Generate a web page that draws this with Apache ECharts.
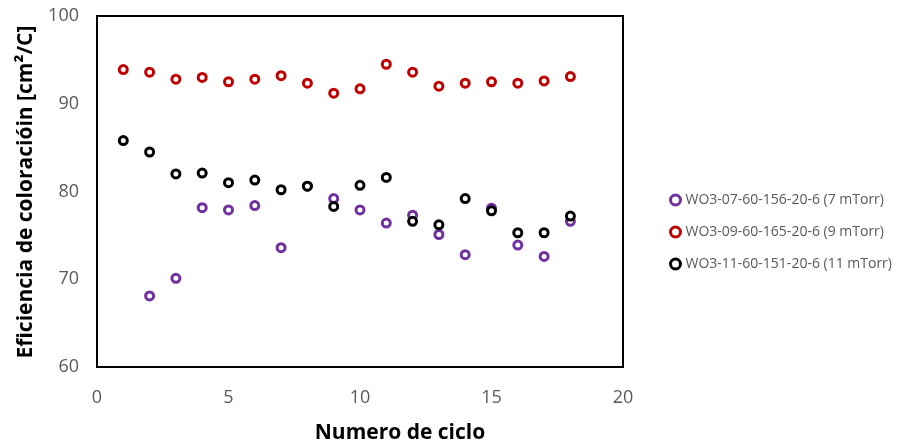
<!DOCTYPE html>
<html><head><meta charset="utf-8">
<script src="https://cdn.jsdelivr.net/npm/echarts@6/dist/echarts.min.js"></script>
<style>html,body{margin:0;padding:0;background:#fff}#c{width:902px;height:447px}</style>
</head><body><div id="c"></div>
<script>
const cycles = [1,2,3,4,5,6,7,8,9,10,11,12,13,14,15,16,17,18];
const names = ['WO3-07-60-156-20-6 (7 mTorr)','WO3-09-60-165-20-6 (9 mTorr)','WO3-11-60-151-20-6 (11 mTorr)'];
const colors = ['#7030A0','#C00000','#000000'];
const s7 = [null,68.1,70.1,78.15,77.9,78.4,73.6,80.6,79.2,77.9,76.4,77.3,75.1,72.8,78.1,73.9,72.6,76.6];
const s9 = [93.9,93.6,92.8,93.0,92.5,92.8,93.2,92.35,91.2,91.7,94.5,93.6,92.0,92.35,92.5,92.35,92.6,93.1];
const s11 = [85.8,84.5,82.0,82.1,81.0,81.3,80.2,80.6,78.3,80.7,81.6,76.6,76.2,79.2,77.8,75.3,75.3,77.2];
const xTicks = [0,5,10,15,20];
const yTicks = [60,70,80,90,100];

const pairs = arr => cycles.map((c,i)=>arr[i]==null?null:[c,arr[i]]).filter(p=>p);
const all = [s7,s9,s11];
const chart = echarts.init(document.getElementById('c'));
chart.setOption({
  animation:false,
  backgroundColor:'#fff',
  grid:{left:97,top:16,right:279,bottom:80,show:true,borderColor:'#000',borderWidth:2,backgroundColor:'transparent'},
  xAxis:{type:'value',min:xTicks[0],max:xTicks[xTicks.length-1],interval:5,
    axisLine:{show:false},axisTick:{show:false},splitLine:{show:false},
    axisLabel:{color:'#595959',fontSize:18,fontFamily:'Open Sans',margin:22}},
  yAxis:{type:'value',min:yTicks[0],max:yTicks[yTicks.length-1],interval:10,
    axisLine:{show:false},axisTick:{show:false},splitLine:{show:false},
    axisLabel:{color:'#595959',fontSize:18,fontFamily:'Open Sans',margin:18}},
  legend:{orient:'vertical',left:664,top:188,itemGap:18,itemWidth:10,itemHeight:10,
    icon:'circle',
    itemStyle:{borderWidth:3},
    textStyle:{color:'#595959',fontSize:14,fontFamily:'Open Sans'},
    data:names},
  graphic:[
    {type:'text',x:400,y:433,style:{text:'Numero de ciclo',fontSize:21,fontWeight:'bold',fontFamily:'Open Sans',fill:'#000',align:'center',verticalAlign:'middle'}},
    {type:'text',rotation:Math.PI/2,x:26,y:192,style:{text:'Eficiencia de coloracióin [cm²/C]',fontSize:21,fontWeight:'bold',fontFamily:'Open Sans',fill:'#000',align:'center',verticalAlign:'middle'}}
  ],
  series: all.map((arr,i)=>({
    name:names[i],type:'scatter',symbol:'circle',symbolSize:8,
    itemStyle:{color:'#fff',borderColor:colors[i],borderWidth:3,opacity:1},
    data:pairs(arr)
  }))
});
</script></body></html>
